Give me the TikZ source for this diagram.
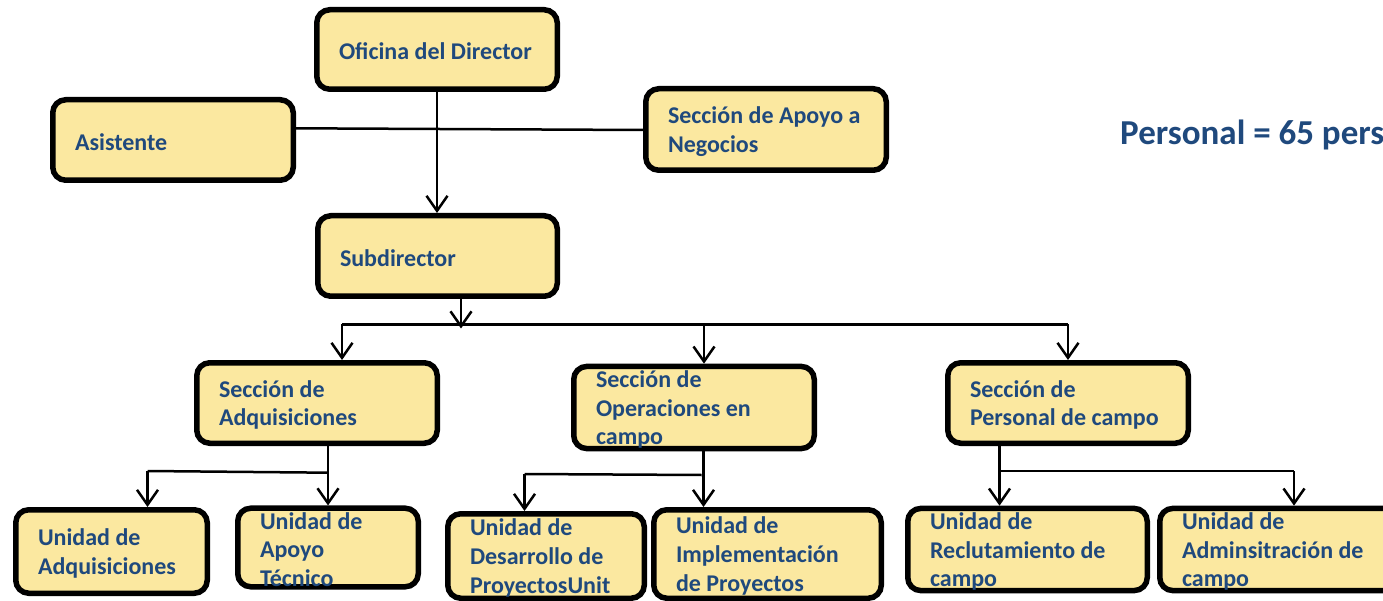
\documentclass[tikz,border=0pt]{standalone}
\usepackage{fontspec}
\setmainfont{Carlito}
\usetikzlibrary{arrows.meta}
\definecolor{boxfill}{RGB}{251,232,160}
\definecolor{txtblue}{RGB}{31,73,125}
\tikzset{
  orgbox/.style n args={3}{draw=black, line width=5.5pt, rounded corners=13pt, fill=boxfill,
    minimum width=#1, minimum height=#2, text width=#3, inner xsep=0pt, inner ysep=0pt,
    align=flush left, text=txtblue, font=\bfseries\fontsize{24}{28.7}\selectfont,
    execute at begin node={\spaceskip=0pt\xspaceskip=0pt\hyphenpenalty=10000\exhyphenpenalty=10000\rule{0pt}{21pt}}},
  conn/.style={line width=2.5pt, draw=black},
  arr/.style={conn, -{Straight Barb[length=15pt,width=21pt]}}
}
\begin{document}
\begin{tikzpicture}[x=1pt,y=-1pt]
\path[use as bounding box] (0,0) rectangle (1383,601);
\clip (0,0) rectangle (1383,601);
% top level
\node[orgbox={240.5pt}{79.5pt}{196pt}] (dir) at (437,49.5) {Oficina del Director};
\node[orgbox={240.5pt}{80.5pt}{196pt}] (asis) at (173,140) {Asistente};
\node[orgbox={240.5pt}{81.5pt}{196pt}] (apoyo) at (766,129.5) {Sección de Apoyo a\\Negocios};
\node[orgbox={239.5pt}{80.5pt}{195pt}] (sub) at (437.5,256) {Subdirector};
% sections
\node[orgbox={240.5pt}{80.5pt}{196pt}] (sadq) at (317,403) {Sección de\\Adquisiciones};
\node[orgbox={240.5pt}{81.5pt}{196pt}] (sop) at (694,407.5) {Sección de\\Operaciones en\\campo};
\node[orgbox={240.5pt}{80.5pt}{196pt}] (sper) at (1068,403) {Sección de\\Personal de campo};
% units
\node[orgbox={191.5pt}{83.5pt}{147pt}] (uadq) at (111.5,551.5) {Unidad de\\Adquisiciones};
\node[orgbox={180.5pt}{75.5pt}{136pt}] (utec) at (328,547.5) {Unidad de\\Apoyo\\Técnico};
\node[orgbox={196.5pt}{84.5pt}{152pt}] (udes) at (546,556) {Unidad de\\Desarrollo de\\ProyectosUnit};
\node[orgbox={227.5pt}{88.5pt}{183pt}] (uimp) at (767.5,554) {Unidad de\\Implementación\\de Proyectos};
\node[orgbox={239.5pt}{79.5pt}{195pt}] (urec) at (1027.5,549.5) {Unidad de\\Reclutamiento de\\campo};
\node[orgbox={239.5pt}{79.5pt}{195pt}] (uadm) at (1279.5,549.5) {Unidad de\\Adminsitración de\\campo};
% staff note
\node[anchor=base west, inner sep=0pt, text=txtblue, font=\bfseries\fontsize{35}{42}\selectfont] (pers) at (1120,144.5) {Personal = 65 pers};
% director level connectors
\draw[arr] (dir.south) -- (dir.south |- sub.north);
\draw[conn] ([yshift=11.7pt]asis.east) -- ([yshift=-0.5pt]apoyo.west);
% subdirector bus
\coordinate (b0) at (461,324.5);
\coordinate (b1) at (342,324.5);
\coordinate (b2) at (704,324.5);
\coordinate (b3) at (1068,324.5);
\draw[arr] (sub.south -| b0) -- ([yshift=-4pt]b0);
\draw[conn] (b1) -- (b3);
\draw[arr] (b1) -- (b1 |- sadq.north);
\draw[arr] (b2) -- (b2 |- sop.north);
\draw[arr] (b3) -- (b3 |- sper.north);
% adquisiciones
\coordinate (a0) at (328,472.7);
\coordinate (a1) at (147.5,471);
\draw[arr] (sadq.south -| a0) -- (a0 |- utec.north);
\draw[conn] (a0) -- (a1);
\draw[arr] (a1) -- (a1 |- uadq.north);
% operaciones
\coordinate (o0) at (703.5,475);
\coordinate (o1) at (524.5,474);
\draw[arr] (sop.south -| o0) -- (o0 |- uimp.north);
\draw[conn] ([xshift=-2pt]o0) -- (o1);
\draw[arr] (o1) -- (o1 |- udes.north);
% personal de campo
\coordinate (p0) at (999.5,471);
\coordinate (p1) at (1294,471);
\draw[arr] (sper.south -| p0) -- (p0 |- urec.north);
\draw[conn] (p0) -- (p1);
\draw[arr] (p1) -- (p1 |- uadm.north);
\end{tikzpicture}
\end{document}
